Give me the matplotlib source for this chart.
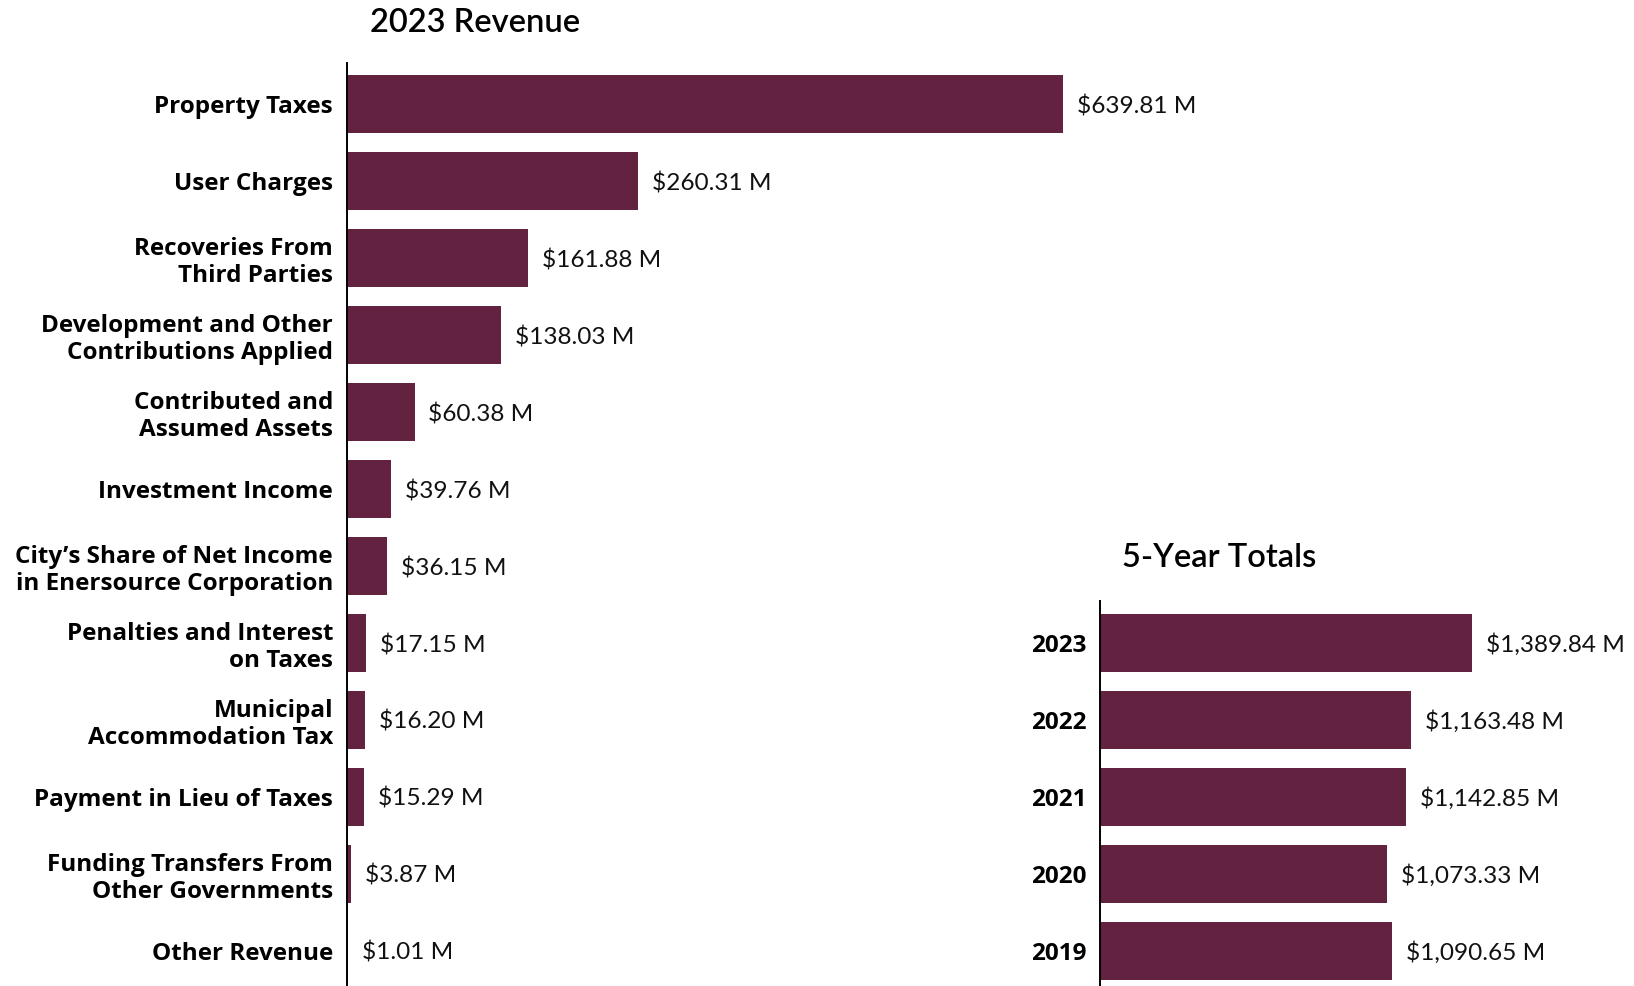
import numpy as np
import matplotlib.pyplot as plt

plt.rcParams['font.family'] = ['Lato', 'DejaVu Sans']

# revenue by source, 2023 ($ millions)
sources = ['Property Taxes', 'User Charges', 'Recoveries From\nThird Parties',
           'Development and Other\nContributions Applied', 'Contributed and\nAssumed Assets',
           'Investment Income', 'City\u2019s Share of Net Income\nin Enersource Corporation',
           'Penalties and Interest\non Taxes', 'Municipal\nAccommodation Tax',
           'Payment in Lieu of Taxes', 'Funding Transfers From\nOther Governments',
           'Other Revenue']
revenue_2023 = [639.81, 260.31, 161.88, 138.03, 60.38, 39.76, 36.15, 17.15, 16.20, 15.29, 3.87, 1.01]

# total revenue per year ($ millions)
years = ['2023', '2022', '2021', '2020', '2019']
totals = [1389.84, 1163.48, 1142.85, 1073.33, 1090.65]

W, H = 1634, 986
bar_color = '#632340'

fig = plt.figure(figsize=(W / 100, H / 100), dpi=100)


def fmt(v):
    return f'${v:,.2f} M'


def draw_bars(ax, labels, values, xmax, ytop, ybot):
    y = np.arange(len(values))
    ax.barh(y, values, height=0.76, color=bar_color)
    ax.set_ylim(len(values) - 1 + ybot, -ytop)
    ax.set_xlim(0, xmax)
    ax.set_yticks(y)
    ax.set_yticklabels(labels, fontsize=17.5, fontweight='bold', linespacing=1.15,
                       family=['Open Sans', 'DejaVu Sans'])
    ax.tick_params(axis='y', length=0, pad=10)
    ax.set_xticks([])
    for s in ['top', 'right', 'bottom']:
        ax.spines[s].set_visible(False)
    ax.spines['left'].set_linewidth(1.4)
    ax.patch.set_alpha(0)
    for yi, v in zip(y, values):
        ax.annotate(fmt(v), (v, yi), xytext=(10, 0), textcoords='offset points',
                    va='center_baseline', ha='left', fontsize=17.6, color='#111111')


# left chart: 2023 revenue breakdown
ax1 = fig.add_axes([347 / W, 0, 783 / W, (H - 62.5) / H])
draw_bars(ax1, sources, revenue_2023, 700, 0.54, 0.455)

# right chart: five-year totals
ax2 = fig.add_axes([1100 / W, 0, 428 / W, 385 / H])
draw_bars(ax2, years, totals, 1600, 0.545, 0.455)

fig.text(475 / W, 1 - 20 / H, '2023 Revenue', ha='center', va='center_baseline',
         fontsize=23.5, fontweight='semibold')
fig.text(1219 / W, 1 - 555 / H, '5-Year Totals', ha='center', va='center_baseline',
         fontsize=23.5, fontweight='semibold')

fig.savefig('out.png', dpi=100, facecolor='white')
